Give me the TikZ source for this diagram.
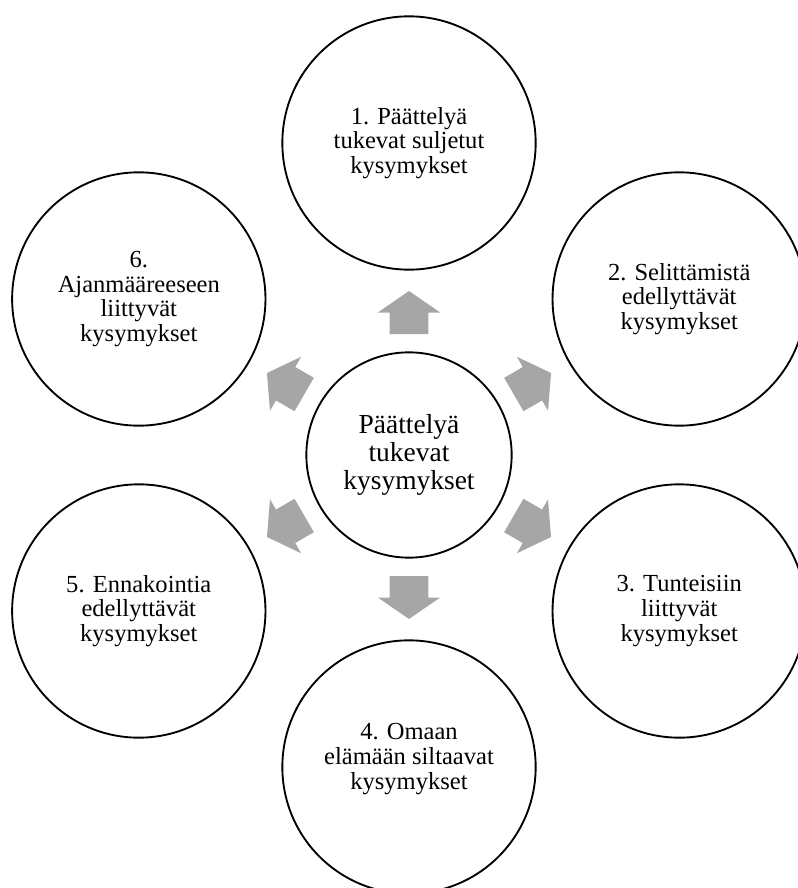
\documentclass[tikz,border=0pt]{standalone}
\usepackage{fontspec}
\setmainfont{Liberation Serif}
\usetikzlibrary{positioning}

\definecolor{arrowgray}{RGB}{166,166,166}

\tikzset{every picture/.style={line width=0.75pt}}
\tikzset{
    topic/.style={draw, circle, line width=1.4pt, minimum size=190pt, inner sep=0pt,
        align=center, font=\fontsize{18.4}{18.5}\selectfont},
    topictext/.style={align=center, inner sep=0pt, font=\fontsize{18.4}{18.5}\selectfont},
    hub/.style={draw, circle, line width=1.4pt, minimum size=154pt, inner sep=0pt,
        align=center, font=\fontsize{20.6}{21.2}\selectfont},
    blockarrow/.style={fill=arrowgray, draw=none}
}

\begin{document}
\begin{tikzpicture}[x=0.75pt,y=0.75pt,yscale=-1,xscale=1]
        \useasboundingbox (0,0) rectangle (798,888);

        % centre
        \node[hub] (kysymykset) at (409,455) {Päättelyä\\tukevat\\kysymykset};

        % six question types
        \node[topic] (paattely) at (409,143) {1. Päättelyä\\tukevat suljetut\\kysymykset};
        \node[topic] (selitys) at (679.2,299) {2. Selittämistä\\edellyttävät\\kysymykset};
        \node[topic] (tunteet) at (679.2,611) {3. Tunteisiin\\liittyvät\\kysymykset};
        \node[topic, label={[topictext, yshift=6pt]center:4. Omaan\\elämään siltaavat\\kysymykset}] (elama) at (409,767) {};
        \node[topic] (ennakointi) at (138.8,611) {5. Ennakointia\\edellyttävät\\kysymykset};
        \node[topic] (ajanmaare) at (138.8,299) {6.\\Ajanmääreeseen\\liittyvät\\kysymykset};

        % block arrows from the centre outwards
        \foreach \ang in {90,30,-30,-90,-150,150}
            \fill[blockarrow, shift={(kysymykset.center)}, rotate=\ang]
                (121,-19.3) -- (142.5,-19.3) -- (142.5,-31.2) -- (164,0)
                -- (142.5,31.2) -- (142.5,19.3) -- (121,19.3) -- cycle ;

\end{tikzpicture}
\end{document}
